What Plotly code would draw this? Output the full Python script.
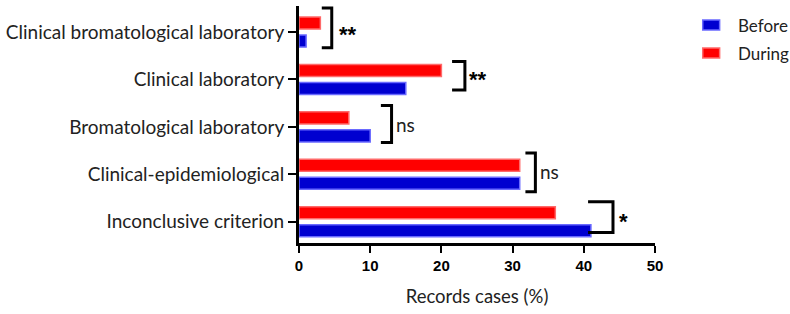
import plotly.graph_objects as go

categories = ["Inconclusive criterion", "Clinical-epidemiological", "Bromatological laboratory",
              "Clinical laboratory", "Clinical bromatological laboratory"]
before = [41, 31, 10, 15, 1]
during = [36, 31, 7, 20, 3]
significance = ["*", "ns", "ns", "**", "**"]
# bracket geometry (x_left tip, x_right, y_bottom, y_top) in data units
bracket_x0 = [40.6, 31.8, 11.5, 21.5, 3.2]
bracket_x1 = [44.1, 33.2, 13.0, 23.3, 4.6]
bracket_y0 = [-0.23, 0.63, 1.67, 2.78, 3.67]
bracket_y1 = [0.42, 1.45, 2.45, 3.38, 4.51]
label_x = [44.7, 33.5, 13.4, 23.6, 5.3]
label_y = [0.08, 1.05, 2.04, 3.09, 4.04]

ypos = list(range(len(categories)))

fig = go.Figure()
fig.add_trace(go.Bar(y=ypos, x=before, orientation="h", name="Before",
                     marker=dict(color="#0000d0", line=dict(color="#6a6aff", width=1.5))))
fig.add_trace(go.Bar(y=ypos, x=during, orientation="h", name="During",
                     marker=dict(color="#ff0000", line=dict(color="#ff6a6a", width=1.5))))

shapes = []
annotations = []
for i in range(len(categories)):
    path = (f"M {bracket_x0[i]},{bracket_y1[i]} L {bracket_x1[i]},{bracket_y1[i]} "
            f"L {bracket_x1[i]},{bracket_y0[i]} L {bracket_x0[i]},{bracket_y0[i]}")
    shapes.append(dict(type="path", path=path, xref="x", yref="y",
                       line=dict(color="black", width=3)))
    sig = significance[i]
    is_star = "*" in sig
    annotations.append(dict(x=label_x[i], y=label_y[i], xref="x", yref="y", text=sig,
                            showarrow=False, xanchor="left", yanchor="middle",
                            font=dict(family="Liberation Sans" if is_star else "Lato",
                                      size=22 if is_star else 19,
                                      weight="bold" if is_star else "normal",
                                      color="black" if is_star else "#222"),
                            yshift=-4 if is_star else 0))

# custom legend
leg_names = ["Before", "During"]
leg_colors = [("#0000d0", "#6a6aff"), ("#ff0000", "#ff6a6a")]
leg_y = [25, 53]
for name, (c, lc), yy in zip(leg_names, leg_colors, leg_y):
    shapes.append(dict(type="rect", xref="paper", yref="paper",
                       x0=(703 - 297) / 358, x1=(720 - 297) / 358,
                       y0=(243 - yy - 5) / 237, y1=(243 - yy + 5) / 237,
                       fillcolor=c, line=dict(color=lc, width=1.5)))
    annotations.append(dict(xref="paper", yref="paper", x=(736 - 297) / 358,
                            y=(243 - yy) / 237, text=name, showarrow=False,
                            xanchor="left", yanchor="middle",
                            font=dict(family="Lato", size=17, color="#222")))

fig.update_layout(
    width=790, height=314,
    margin=dict(l=297, r=135, t=6, b=71),
    plot_bgcolor="white", paper_bgcolor="white",
    barmode="group", bargap=0.24, bargroupgap=0.33,
    showlegend=False,
    shapes=shapes, annotations=annotations,
    xaxis=dict(range=[0, 50], tickvals=[0, 10, 20, 30, 40, 50],
               showgrid=False, zeroline=False, showline=True, linecolor="black",
               linewidth=3, ticks="outside", ticklen=7, tickwidth=2, tickcolor="black",
               tickfont=dict(family="Liberation Sans", size=15, weight="bold", color="black"),
               title=dict(text="Records cases (%)", standoff=18,
                          font=dict(family="Lato", size=18.5, color="#222"))),
    yaxis=dict(range=[-0.45, 4.55], tickvals=ypos, ticktext=categories,
               showgrid=False, zeroline=False, showline=True, linecolor="black",
               linewidth=3, ticks="outside", ticklen=8, tickwidth=2, tickcolor="black",
               tickfont=dict(family="Lato", size=19, color="#222")),
)

fig.write_html("out.html", config={"displayModeBar": False},
               post_script="document.body.style.margin='0';")
